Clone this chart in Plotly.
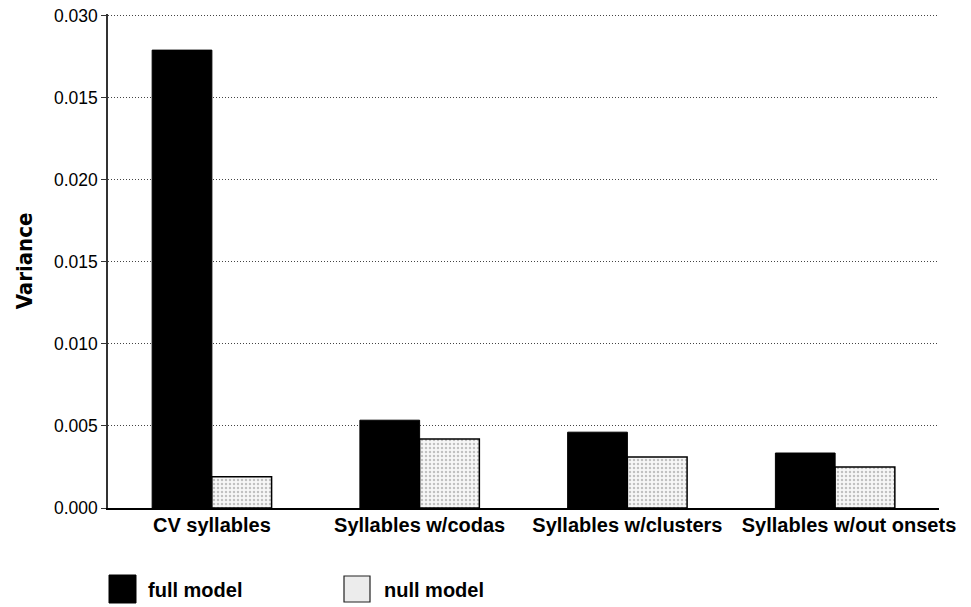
import plotly.graph_objects as go

categories = ["CV syllables", "Syllables w/codas", "Syllables w/clusters", "Syllables w/out onsets"]
full_model = [0.0279, 0.00535, 0.00462, 0.00335]
null_model = [0.0019, 0.0042, 0.0031, 0.0025]
tick_vals = [0.000, 0.005, 0.010, 0.015, 0.020, 0.025, 0.030]
tick_text = ["0.000", "0.005", "0.010", "0.015", "0.020", "0.015", "0.030"]
series_names = ["full model", "null model"]

# last category label sits a little right of its bars in the reference
x_tick_text = categories[:-1] + ["\u00a0" * 5 + categories[-1]]

FONT = "Liberation Sans, Arial, Helvetica, sans-serif"

fig = go.Figure()
fig.add_trace(go.Bar(
    x=categories, y=full_model, name=series_names[0],
    marker=dict(color="black", line=dict(color="black", width=1)),
))
fig.add_trace(go.Bar(
    x=categories, y=null_model, name=series_names[1],
    marker=dict(color="white", line=dict(color="black", width=1.5),
                pattern=dict(shape=".", fgcolor="#8a8a8a", bgcolor="#f7f7f7",
                             size=4, solidity=0.3)),
))

# body margin is removed by the post script, so page pixels == figure pixels
W, H = 971, 607
L, R, T, B = 108, 32, 14, 99
pw, ph = W - L - R, H - T - B

def px_x(x):
    return (x - L) / pw

def px_y(y):
    return (H - B - y) / ph

shapes = [
    dict(type="rect", xref="paper", yref="paper",
         x0=px_x(109), x1=px_x(136), y0=px_y(603), y1=px_y(575),
         fillcolor="black", line=dict(color="black", width=1)),
    dict(type="rect", xref="paper", yref="paper",
         x0=px_x(344), x1=px_x(370), y0=px_y(602), y1=px_y(576),
         fillcolor="#ececec", line=dict(color="#222222", width=1.2)),
]
annotations = [
    dict(text=series_names[0], xref="paper", yref="paper", x=px_x(146), y=px_y(590),
         xanchor="left", yanchor="middle", showarrow=False,
         font=dict(size=20, family=FONT, weight="bold", color="black")),
    dict(text=series_names[1], xref="paper", yref="paper", x=px_x(382), y=px_y(590),
         xanchor="left", yanchor="middle", showarrow=False,
         font=dict(size=20, family=FONT, weight="bold", color="black")),
]

fig.update_layout(
    width=W, height=H,
    margin=dict(l=L, r=R, t=T, b=B),
    paper_bgcolor="white", plot_bgcolor="white",
    barmode="group", bargap=0.425, bargroupgap=0,
    font=dict(family=FONT, color="black", size=14),
    showlegend=False,
    shapes=shapes, annotations=annotations,
)
fig.update_xaxes(
    showline=True, linecolor="black", linewidth=1.5,
    ticks="", showgrid=False, range=[-0.5, 3.5], automargin=False,
    tickvals=categories, ticktext=x_tick_text, tickangle=0, ticklabelstandoff=-2,
    tickfont=dict(size=20, family=FONT, weight="bold"),
)
fig.update_yaxes(
    range=[0, 0.0301], tickvals=tick_vals, ticktext=tick_text,
    showline=True, linecolor="#333333", linewidth=1.5, automargin=False,
    ticks="outside", ticklen=5, tickcolor="#333333",
    ticklabeloverflow="allow",
    showgrid=True, gridcolor="#444444", gridwidth=1, griddash="1px,2px",
    zeroline=False,
    tickfont=dict(size=17.5, family=FONT),
    title=dict(text="Variance", standoff=15,
               font=dict(size=22, weight="bold",
                         family="Liberation Sans Narrow, Arial Narrow, DejaVu Sans Condensed, sans-serif")),
)

fig.write_html(
    "out.html",
    config={"displayModeBar": False},
    post_script="document.body.style.margin='0';document.body.style.overflow='hidden';",
)
